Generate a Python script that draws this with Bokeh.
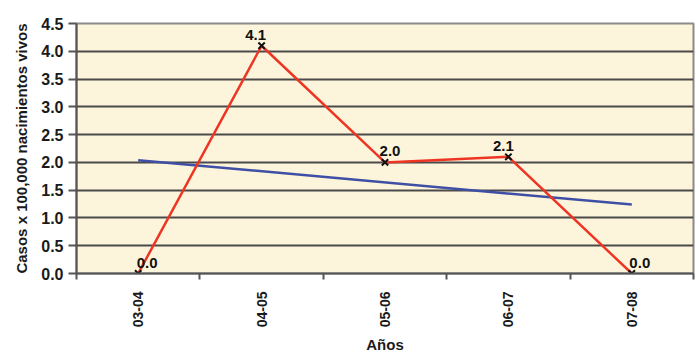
from math import pi
from bokeh.plotting import figure
from bokeh.models import FixedTicker, ColumnDataSource, Range1d, PrintfTickFormatter
from bokeh.core.properties import value
from bokeh.embed import file_html
from bokeh.resources import INLINE

years = ["03-04", "04-05", "05-06", "06-07", "07-08"]
rates = [0.0, 4.1, 2.0, 2.1, 0.0]
rate_labels = ["0.0", "4.1", "2.0", "2.1", "0.0"]
trend_idx = [0, 4]
trend_values = [2.04, 1.24]
y_ticks = [0.0, 0.5, 1.0, 1.5, 2.0, 2.5, 3.0, 3.5, 4.0, 4.5]

# label nudges (pixels), styling only
label_dx = [9, -6, 5, -5, 8]

x_pos = list(range(len(years)))
boundaries = [i - 0.5 for i in range(len(years) + 1)]

FONT = "Liberation Sans"

p = figure(width=697, height=356, output_backend="svg", toolbar_location=None,
           x_range=Range1d(-0.5, len(years) - 0.5), y_range=Range1d(0, 4.5),
           min_border_left=76, min_border_right=4, min_border_top=23, min_border_bottom=83)

p.background_fill_color = "#FDF5DB"
p.border_fill_color = "white"
p.outline_line_color = "#8a8a8a"
p.outline_line_width = 2

# grid
p.xgrid.visible = False
p.ygrid.ticker = FixedTicker(ticks=y_ticks)
p.ygrid.grid_line_color = "#4a4a4a"
p.ygrid.grid_line_width = 2

# y axis
p.yaxis.ticker = FixedTicker(ticks=y_ticks)
p.yaxis.formatter = PrintfTickFormatter(format="%.1f")
p.yaxis.major_tick_in = 0
p.yaxis.major_tick_out = 8
p.yaxis.minor_tick_line_color = None
p.yaxis.axis_line_color = "#555555"
p.yaxis.axis_line_width = 2
p.yaxis.major_tick_line_color = "#555555"
p.yaxis.major_tick_line_width = 2
p.yaxis.axis_label = "Casos x 100,000 nacimientos vivos"
p.yaxis.axis_label_text_font = FONT
p.yaxis.axis_label_text_font_style = "bold"
p.yaxis.axis_label_text_font_size = "15px"
p.yaxis.axis_label_text_color = "#1a1a1a"
p.yaxis.axis_label_standoff = 8
p.yaxis.major_label_text_font = FONT
p.yaxis.major_label_text_font_style = "bold"
p.yaxis.major_label_text_font_size = "16px"
p.yaxis.major_label_text_color = "#1a1a1a"
p.yaxis.major_label_standoff = 5

# x axis
p.xaxis.ticker = FixedTicker(ticks=x_pos, minor_ticks=boundaries)
p.xaxis.major_label_overrides = {i: years[i] for i in x_pos}
p.xaxis.major_tick_out = 0
p.xaxis.major_tick_in = 0
p.xaxis.minor_tick_out = 6
p.xaxis.minor_tick_in = 0
p.xaxis.minor_tick_line_color = "#555555"
p.xaxis.minor_tick_line_width = 2
p.xaxis.axis_line_color = "#555555"
p.xaxis.axis_line_width = 2
p.xaxis.major_label_orientation = pi / 2
p.xaxis.major_label_standoff = 12
p.xaxis.major_label_text_font = FONT
p.xaxis.major_label_text_font_style = "bold"
p.xaxis.major_label_text_font_size = "14px"
p.xaxis.major_label_text_color = "#1a1a1a"
p.xaxis.axis_label = "Años"
p.xaxis.axis_label_text_font = FONT
p.xaxis.axis_label_text_font_style = "bold"
p.xaxis.axis_label_text_font_size = "15px"
p.xaxis.axis_label_text_color = "#1a1a1a"
p.xaxis.axis_label_standoff = 6

src = ColumnDataSource(dict(x=x_pos, y=rates, label=rate_labels, dx=label_dx))
trend = ColumnDataSource(dict(x=trend_idx, y=trend_values))

p.line("x", "y", source=trend, line_color="#3F4FA6", line_width=2.5)
p.line("x", "y", source=src, line_color="#EE3524", line_width=2.5)
p.scatter("x", "y", source=src, marker="x", size=9, line_color="#111111", line_width=2)
p.text("x", "y", text="label", source=src, x_offset="dx", y_offset=-6,
       text_align="center", text_baseline="bottom",
       text_font=value(FONT), text_font_style="bold", text_font_size="15px",
       text_color="#111111")

open("out.html", "w").write(file_html(p, INLINE))
